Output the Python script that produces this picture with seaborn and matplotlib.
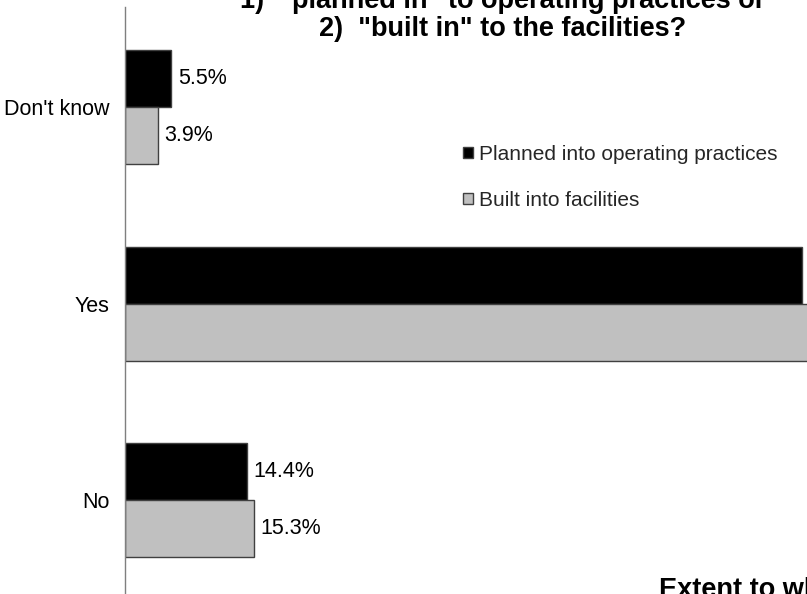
import pandas as pd
import matplotlib
matplotlib.use('Agg')
import matplotlib.pyplot as plt
import seaborn as sns

sns.set_theme(style="white")
plt.rcParams['font.family'] = ['Liberation Sans', 'DejaVu Sans']

# data
categories = ["Don't know", "Yes", "No"]
series_names = ["Planned into operating practices", "Built into facilities"]
planned_pct = [5.5, 80.1, 14.4]
built_pct = [3.9, 80.8, 15.3]
title_lines = ['1)  "planned in" to operating practices or',
               '2)  "built in" to the facilities?']
xlabel_text = "Extent to which"

df = pd.DataFrame({
    'answer': categories * 2,
    'pct': planned_pct + built_pct,
    'series': [series_names[0]] * 3 + [series_names[1]] * 3,
})

W, H = 807, 594
fig = plt.figure(figsize=(W / 100, H / 100), dpi=100)
# the reference is a crop of a wider chart: the axes run past the right edge
ax = fig.add_axes([125 / W, 0, 845 / W, 587 / H])

sns.barplot(data=df, x='pct', y='answer', hue='series', order=categories,
            hue_order=series_names, orient='h', width=0.58,
            palette=['#000000', '#C0C0C0'], edgecolor='#404040', linewidth=1,
            ax=ax)

ax.set_xlim(0, 100)
ax.set_ylim(2.478, -0.509)
ax.set_xlabel('')
ax.set_ylabel('')
ax.set_xticks([])
for side in ['top', 'right', 'bottom']:
    ax.spines[side].set_visible(False)
ax.spines['left'].set_color('#7f7f7f')
ax.spines['left'].set_linewidth(1)
ax.tick_params(axis='y', length=0, pad=11, labelsize=15.5, labelcolor='black')

for cont in ax.containers:
    ax.bar_label(cont, fmt='%.1f%%', padding=4.5, fontsize=15.5, color='black')

handles, labels = ax.get_legend_handles_labels()
ax.legend(handles, labels, loc='upper left',
          bbox_to_anchor=(463 / W, 1 - 145 / H), bbox_transform=fig.transFigure,
          frameon=False, fontsize=15, handlelength=0.48, handleheight=0.48,
          handletextpad=0.3, labelspacing=1.3, borderpad=0, borderaxespad=0)

fig.text(503 / W, 1 - 8 / H, title_lines[0], ha='center', va='baseline',
         fontsize=19.5, fontweight='bold', color='black')
fig.text(503 / W, 1 - 36 / H, title_lines[1], ha='center', va='baseline',
         fontsize=19.5, fontweight='bold', color='black')
fig.text(659 / W, 1 - 597 / H, xlabel_text, ha='left', va='baseline',
         fontsize=19.5, fontweight='bold', color='black')

fig.savefig('out.png', dpi=100)
